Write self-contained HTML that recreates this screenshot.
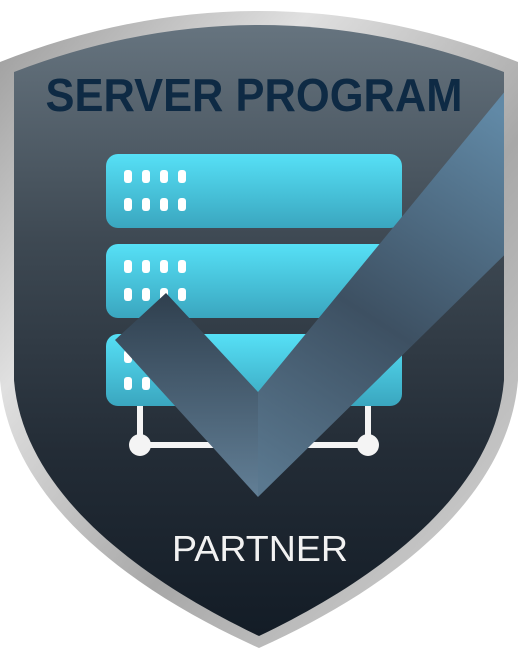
<!DOCTYPE html>
<html><head><meta charset="utf-8"><style>
html,body{margin:0;padding:0;background:#fff;}
svg{display:block;}
</style></head><body>
<svg width="518" height="652" viewBox="0 0 518 652" xmlns="http://www.w3.org/2000/svg">
<defs>
<linearGradient id="rim" x1="0" y1="0" x2="1" y2="1">
<stop offset="0" stop-color="#9a9a9a"/><stop offset="0.3" stop-color="#e0e0e0"/><stop offset="0.6" stop-color="#a8a8a8"/><stop offset="1" stop-color="#d8d8d8"/>
</linearGradient>
<linearGradient id="body" x1="0" y1="0" x2="0" y2="1">
<stop offset="0" stop-color="#66747f"/><stop offset="0.35" stop-color="#3e4953"/><stop offset="0.7" stop-color="#232c36"/><stop offset="1" stop-color="#131c26"/>
</linearGradient>
<linearGradient id="srv" x1="0" y1="0" x2="0" y2="1">
<stop offset="0" stop-color="#56e0f6"/><stop offset="1" stop-color="#3aa6bf"/>
</linearGradient>
<linearGradient id="chk" gradientUnits="userSpaceOnUse" x1="0" y1="293" x2="0" y2="497">
<stop offset="0" stop-color="#2f3f4e"/><stop offset="1" stop-color="#627f96"/>
</linearGradient>
<linearGradient id="arm" gradientUnits="userSpaceOnUse" x1="258" y1="480" x2="495" y2="110">
<stop offset="0" stop-color="#5a788f"/><stop offset="0.45" stop-color="#3d5062"/><stop offset="1" stop-color="#6189a6"/>
</linearGradient>
<clipPath id="sh"><path d="M14,72 Q259,-22 504,72 L504,380 C495,492 380,578 259,636 C138,578 23,492 14,380 Z"/></clipPath>
</defs>
<path d="M0,62 Q259,-40 518,62 L518,380 C508,500 388,590 259,648 C130,590 10,500 0,380 Z" fill="url(#rim)"/>
<path d="M14,72 Q259,-22 504,72 L504,380 C495,492 380,578 259,636 C138,578 23,492 14,380 Z" fill="url(#body)"/>
<text x="254" y="111" text-anchor="middle" font-family="Liberation Sans, sans-serif" font-weight="bold" font-size="46" fill="#0e2a44" textLength="417" lengthAdjust="spacingAndGlyphs">SERVER PROGRAM</text>
<g>
<rect x="106" y="154" width="296" height="74" rx="12" fill="url(#srv)"/>
<rect x="106" y="244" width="296" height="74" rx="12" fill="url(#srv)"/>
<rect x="106" y="334" width="296" height="72" rx="12" fill="url(#srv)"/>
<g fill="#fff">
<rect x="124" y="170" width="8" height="13" rx="3"/><rect x="142" y="170" width="8" height="13" rx="3"/><rect x="160" y="170" width="8" height="13" rx="3"/><rect x="178" y="170" width="8" height="13" rx="3"/>
<rect x="124" y="198" width="8" height="13" rx="3"/><rect x="142" y="198" width="8" height="13" rx="3"/><rect x="160" y="198" width="8" height="13" rx="3"/><rect x="178" y="198" width="8" height="13" rx="3"/>
<rect x="124" y="260" width="8" height="13" rx="3"/><rect x="142" y="260" width="8" height="13" rx="3"/><rect x="160" y="260" width="8" height="13" rx="3"/><rect x="178" y="260" width="8" height="13" rx="3"/>
<rect x="124" y="288" width="8" height="13" rx="3"/><rect x="142" y="288" width="8" height="13" rx="3"/><rect x="160" y="288" width="8" height="13" rx="3"/><rect x="178" y="288" width="8" height="13" rx="3"/>
<rect x="124" y="350" width="8" height="13" rx="3"/><rect x="142" y="350" width="8" height="13" rx="3"/>
<rect x="124" y="377" width="8" height="13" rx="3"/><rect x="142" y="377" width="8" height="13" rx="3"/>
</g>
<g stroke="#f4f4f4" stroke-width="6" fill="none"><path d="M140,406 V445 H368 V406"/></g>
<circle cx="140" cy="445" r="11" fill="#f4f4f4"/><circle cx="368" cy="445" r="11" fill="#f4f4f4"/>
</g>
<g clip-path="url(#sh)">
<polygon points="115,340 166,293 258,392 258,497" fill="url(#chk)"/>
<polygon points="258,392 520,73 540,73 540,220 258,497" fill="url(#arm)"/>
</g>
<text x="260" y="561" text-anchor="middle" font-family="Liberation Sans, sans-serif" font-size="36" fill="#f2f2f2" textLength="176" lengthAdjust="spacingAndGlyphs">PARTNER</text>
</svg>
</body></html>
